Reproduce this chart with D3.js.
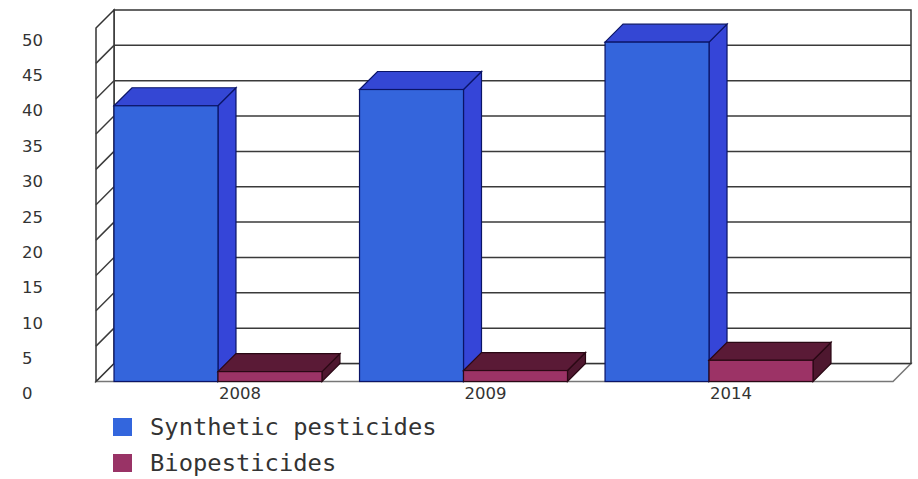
<!DOCTYPE html>
<html>
<head>
<meta charset="utf-8">
<script src="https://cdn.jsdelivr.net/npm/d3@7"></script>
<style>
  html, body { margin: 0; padding: 0; background: #fff; }
  svg { display: block; }
</style>
</head>
<body>
<div id="chart"></div>
<script>
const years = ["2008", "2009", "2014"]
const seriesNames = ["Synthetic pesticides", "Biopesticides"]
const synthetic = [39, 41.3, 48]
const bio = [1.4, 1.55, 3.0]
const yTicks = [0, 5, 10, 15, 20, 25, 30, 35, 40, 45, 50]

const width = 918
const height = 479
const depth = 18

const frontLeft = 96, frontRight = 893
const y = d3.scaleLinear().domain([0, 50]).range([381.5, 28])

// groups sit from the back-wall left edge
const x = d3.scaleBand().domain(years).range([114, 813]).paddingInner(0.153).paddingOuter(0)
const xs = d3.scaleBand().domain(seriesNames).range([0, x.bandwidth()])

const styles = {
  "Synthetic pesticides": { front: "#3465dc", top: "#3447d4", side: "#3545d8", stroke: "#0a1466", legend: "#3366dd" },
  "Biopesticides": { front: "#9c3366", top: "#5a1a36", side: "#4e172f", stroke: "#2a0814", legend: "#993366" }
}

const svg = d3.select("#chart").append("svg")
  .attr("width", width).attr("height", height)
  .attr("viewBox", `0 0 ${width} ${height}`)

const walls = svg.append("g")

// floor
walls.append("polygon")
  .attr("points", [[frontLeft, y(0)], [frontLeft + depth, y(0) - depth], [frontRight + depth, y(0) - depth], [frontRight, y(0)]].join(" "))
  .attr("fill", "#fff").attr("stroke", "#777").attr("stroke-width", 1.5)

// back wall
walls.append("rect")
  .attr("x", frontLeft + depth).attr("y", y(50) - depth)
  .attr("width", frontRight - frontLeft).attr("height", y(0) - y(50))
  .attr("fill", "#fff").attr("stroke", "#333").attr("stroke-width", 1.5)

// left wall
walls.append("polygon")
  .attr("points", [[frontLeft, y(50)], [frontLeft + depth, y(50) - depth], [frontLeft + depth, y(0) - depth], [frontLeft, y(0)]].join(" "))
  .attr("fill", "#fff").attr("stroke", "#333").attr("stroke-width", 1.5)

// grid lines on back and left walls
const gridVals = yTicks.filter(v => v > 0 && v < 50)
walls.selectAll("line.hgrid").data(gridVals).join("line")
  .attr("class", "hgrid")
  .attr("x1", frontLeft + depth).attr("x2", frontRight + depth)
  .attr("y1", d => y(d) - depth).attr("y2", d => y(d) - depth)
  .attr("stroke", "#3a3a3a").attr("stroke-width", 1.5)
walls.selectAll("line.dgrid").data(gridVals).join("line")
  .attr("class", "dgrid")
  .attr("x1", frontLeft).attr("x2", frontLeft + depth)
  .attr("y1", d => y(d)).attr("y2", d => y(d) - depth)
  .attr("stroke", "#3a3a3a").attr("stroke-width", 1.5)

// y labels
svg.append("g").selectAll("text").data(yTicks).join("text")
  .attr("x", 22).attr("y", d => y(d) + 12)
  .attr("dy", "0.35em")
  .attr("font-family", "DejaVu Sans, sans-serif")
  .attr("font-size", 16.5)
  .attr("fill", "#333")
  .text(d => d)

// bars
const rows = []
years.forEach((yr, i) => {
  rows.push({ year: yr, series: seriesNames[0], value: synthetic[i] })
  rows.push({ year: yr, series: seriesNames[1], value: bio[i] })
})

const bars = svg.append("g")
rows.forEach(r => {
  const x0 = x(r.year) + xs(r.series)
  const x1 = x0 + xs.bandwidth()
  const yv = y(r.value), y0 = y(0)
  const s = styles[r.series]
  const g = bars.append("g")
  g.append("polygon")
    .attr("points", [[x1, yv], [x1 + depth, yv - depth], [x1 + depth, y0 - depth], [x1, y0]].join(" "))
    .attr("fill", s.side).attr("stroke", s.stroke).attr("stroke-width", 1.2)
  g.append("polygon")
    .attr("points", [[x0, yv], [x0 + depth, yv - depth], [x1 + depth, yv - depth], [x1, yv]].join(" "))
    .attr("fill", s.top).attr("stroke", s.stroke).attr("stroke-width", 1.2)
  g.append("rect")
    .attr("x", x0).attr("y", yv)
    .attr("width", x1 - x0).attr("height", y0 - yv)
    .attr("fill", s.front).attr("stroke", s.stroke).attr("stroke-width", 1.2)
})

// x labels
svg.append("g").selectAll("text").data(years).join("text")
  .attr("x", d => x(d) + x.bandwidth() / 2 + 1)
  .attr("y", 393)
  .attr("dy", "0.35em")
  .attr("font-family", "DejaVu Sans, sans-serif")
  .attr("font-size", 16.5)
  .attr("fill", "#333")
  .text(d => d)

// legend
const legend = svg.append("g").selectAll("g").data(seriesNames).join("g")
  .attr("transform", (d, i) => `translate(113, ${427 + i * 36})`)
legend.append("rect")
  .attr("x", 0).attr("y", -9).attr("width", 19).attr("height", 18)
  .attr("fill", d => styles[d].legend)
legend.append("text")
  .attr("x", 37).attr("y", 0).attr("dy", "0.35em")
  .attr("font-family", "DejaVu Sans Mono, monospace")
  .attr("font-size", 23.8)
  .attr("fill", "#333")
  .text(d => d)
</script>
</body>
</html>
